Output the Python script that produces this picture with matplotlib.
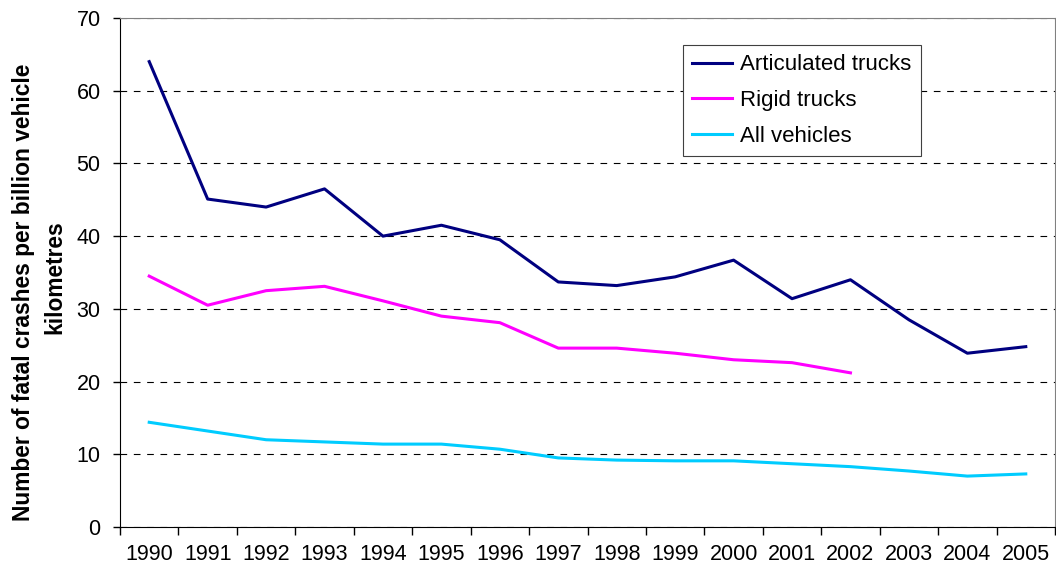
import numpy as np
from matplotlib import pyplot as plt

# Fatal crashes per billion vehicle kilometres
years = [str(y) for y in range(1990, 2006)]
articulated = [64.0, 45.1, 44.0, 46.5, 40.0, 41.5, 39.5, 33.7, 33.2, 34.4, 36.7, 31.4, 34.0, 28.5, 23.9, 24.8]
rigid = [34.5, 30.5, 32.5, 33.1, 31.1, 29.0, 28.1, 24.6, 24.6, 23.9, 23.0, 22.6, 21.2,
         np.nan, np.nan, np.nan]
all_vehicles = [14.4, 13.2, 12.0, 11.7, 11.4, 11.4, 10.7, 9.5, 9.2, 9.1, 9.1, 8.7, 8.3, 7.7, 7.0, 7.3]

plt.rcParams['font.family'] = ['Liberation Sans', 'DejaVu Sans']

fig = plt.figure(figsize=(10.56, 5.77), dpi=100)
ax = fig.add_axes([120 / 1056, 50 / 577, 935 / 1056, 509 / 577])

x = np.arange(len(years))
ax.plot(x, articulated, color='#000080', lw=2.2, label='Articulated trucks')
ax.plot(x, rigid, color='#FF00FF', lw=2.2, label='Rigid trucks')
ax.plot(x, all_vehicles, color='#00CCFF', lw=2.2, label='All vehicles')

ax.set_xlim(-0.5, len(years) - 0.5)
ax.set_ylim(0, 70)
ax.set_yticks(range(0, 71, 10))
ax.yaxis.grid(True, color='black', linestyle=(0, (6, 6)), lw=0.8)
ax.set_axisbelow(True)

# category ticks between years, labels centred
ax.set_xticks(np.arange(-0.5, len(years), 1.0))
ax.set_xticklabels([])
ax.set_xticks(x, minor=True)
ax.set_xticklabels(years, minor=True)
ax.tick_params(axis='x', which='major', direction='out', length=6, width=1)
ax.tick_params(axis='x', which='minor', length=0, pad=12, labelsize=15.5)
ax.tick_params(axis='y', direction='out', length=5, width=1, pad=9, labelsize=15.5)

for side in ['top', 'right']:
    ax.spines[side].set_color('#808080')
for side in ['left', 'bottom']:
    ax.spines[side].set_color('black')

# y label as two lines, placed in figure pixels like the original
fig.text(24 / 1056, 1 - 292 / 577, 'Number of fatal crashes per billion vehicle',
         rotation=90, ha='center', va='center', fontsize=16.4, fontweight='bold')
fig.text(55 / 1056, 1 - 277 / 577, 'kilometres',
         rotation=90, ha='center', va='center', fontsize=16.4, fontweight='bold')

legend = ax.legend(loc='upper left', bbox_to_anchor=(683 / 1056, 1 - 45 / 577),
                   bbox_transform=fig.transFigure, borderaxespad=0, fontsize=16,
                   fancybox=False, framealpha=1, edgecolor='#404040',
                   handlelength=1.8, handletextpad=0.35, labelspacing=0.66,
                   borderpad=0.42)
legend.get_frame().set_linewidth(0.8)

fig.savefig('out.png', dpi=100)
